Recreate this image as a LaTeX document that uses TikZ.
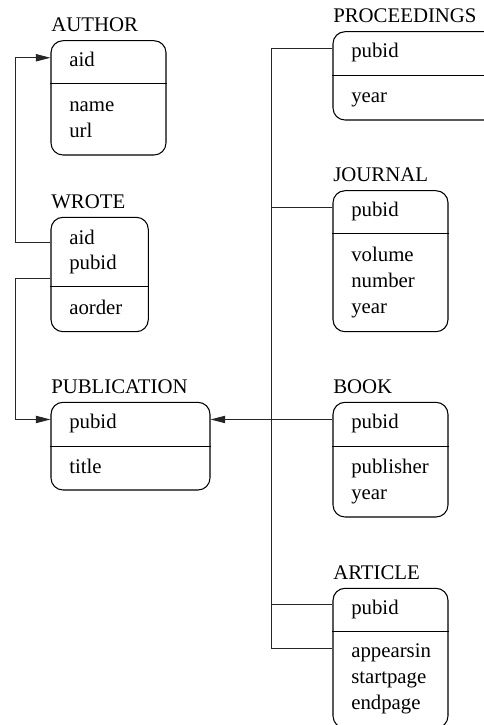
\documentclass[tikz,border=0pt]{standalone}
\usepackage{fontspec}
\setmainfont{Liberation Serif}
\usetikzlibrary{arrows.meta,fit,calc}
\begin{document}
\begin{tikzpicture}[x=0.75pt,y=-0.75pt,
  entity/.style={draw=black,line width=0.8pt,rounded corners=9pt,inner sep=0pt},
  divider/.style={draw=black,line width=0.8pt},
  conn/.style={draw=black!85,line width=0.65pt},
  arr/.style={-{Triangle[length=11pt,width=5.5pt]}},
  lbl/.style={anchor=base west,inner sep=0pt,font=\fontsize{15.6}{18.7}\selectfont},
]
\useasboundingbox (0,0) rectangle (483,725);

% entity boxes
\node[entity,fit={(51,40.7) (166,155)}] (author) {};
\node[entity,fit={(51,217.3) (148.3,331.7)}] (wrote) {};
\node[entity,fit={(51,402.3) (210,490)}] (publication) {};
\node[entity,fit={(333,31.7) (500,120)}] (proceedings) {};
\node[entity,fit={(333,190.7) (448,331.7)}] (journal) {};
\node[entity,fit={(333,402.3) (448,517)}] (book) {};
\node[entity,fit={(333,588.3) (448,728)}] (article) {};

% dividers
\draw[divider] ($(author.north west)+(0,43.6)$) -- ($(author.north east)+(0,43.6)$);
\draw[divider] ($(wrote.north west)+(0,70)$) -- ($(wrote.north east)+(0,70)$);
\draw[divider] ($(publication.north west)+(0,44.4)$) -- ($(publication.north east)+(0,44.4)$);
\draw[divider] ($(proceedings.north west)+(0,44.3)$) -- ($(proceedings.north east)+(0,44.3)$);
\draw[divider] ($(journal.north west)+(0,43.6)$) -- ($(journal.north east)+(0,43.6)$);
\draw[divider] ($(book.north west)+(0,44.4)$) -- ($(book.north east)+(0,44.4)$);
\draw[divider] ($(article.north west)+(0,43.4)$) -- ($(article.north east)+(0,43.4)$);

% texts
\node[lbl] (author-t) at (51,31.4) {AUTHOR};
\node[lbl] (author-aid-t) at (69,66.7) {aid};
\node[lbl] (author-name-t) at (69,111) {name};
\node[lbl] (author-url-t) at (69,137.7) {url};

\node[lbl] (wrote-t) at (51,208) {WROTE};
\node[lbl] (wrote-aid-t) at (69,244) {aid};
\node[lbl] (wrote-pubid-t) at (69,269.5) {pubid};
\node[lbl] (wrote-aorder-t) at (69,314.3) {aorder};

\node[lbl] (pub-t) at (51,393.3) {PUBLICATION};
\node[lbl] (pub-pubid-t) at (69,428.8) {pubid};
\node[lbl] (pub-title-t) at (69,473.3) {title};

\node[lbl] (proc-t) at (333,22) {PROCEEDINGS};
\node[lbl] (proc-pubid-t) at (351,57.5) {pubid};
\node[lbl] (proc-year-t) at (351,102) {year};

\node[lbl] (jour-t) at (333,181.5) {JOURNAL};
\node[lbl] (jour-pubid-t) at (351,216.7) {pubid};
\node[lbl] (jour-volume-t) at (351,261.5) {volume};
\node[lbl] (jour-number-t) at (351,287.3) {number};
\node[lbl] (jour-year-t) at (351,313) {year};

\node[lbl] (book-t) at (333,393.3) {BOOK};
\node[lbl] (book-pubid-t) at (351,428.8) {pubid};
\node[lbl] (book-publisher-t) at (351,473.3) {publisher};
\node[lbl] (book-year-t) at (351,499) {year};

\node[lbl] (art-t) at (333,579) {ARTICLE};
\node[lbl] (art-pubid-t) at (351,614.3) {pubid};
\node[lbl] (art-appearsin-t) at (351,657.5) {appearsin};
\node[lbl] (art-startpage-t) at (351,683.3) {startpage};
\node[lbl] (art-endpage-t) at (351,709.5) {endpage};

% connector end points
\coordinate (author-aid) at ($(author.north west)+(0,17.6)$);
\coordinate (wrote-aid) at ($(wrote.north west)+(0,26)$);
\coordinate (wrote-pubid) at ($(wrote.north west)+(0,61.4)$);
\coordinate (pub-w) at ($(publication.north west)+(0,17.7)$);
\coordinate (pub-e) at ($(publication.north east)+(0,17.7)$);
\coordinate (proc-key) at ($(proceedings.north west)+(0,17.6)$);
\coordinate (jour-key) at ($(journal.north west)+(0,17.6)$);
\coordinate (book-key) at ($(book.north west)+(0,17.7)$);
\coordinate (art-key) at ($(article.north west)+(0,16.7)$);
\coordinate (art-ap) at ($(article.north west)+(0,60.7)$);

% connectors
\draw[conn,arr] (wrote-aid) -- ++(-35,0) |- (author-aid);
\draw[conn,arr] (wrote-pubid) -- ++(-35,0) |- (pub-w);
\draw[conn] (proc-key) -- ++(-61,0) coordinate (trunk-top) |- (art-ap);
\draw[conn] (jour-key) -- (jour-key -| trunk-top);
\draw[conn] (art-key) -- (art-key -| trunk-top);
\draw[conn,arr] (book-key) -- (pub-e);
\end{tikzpicture}
\end{document}
